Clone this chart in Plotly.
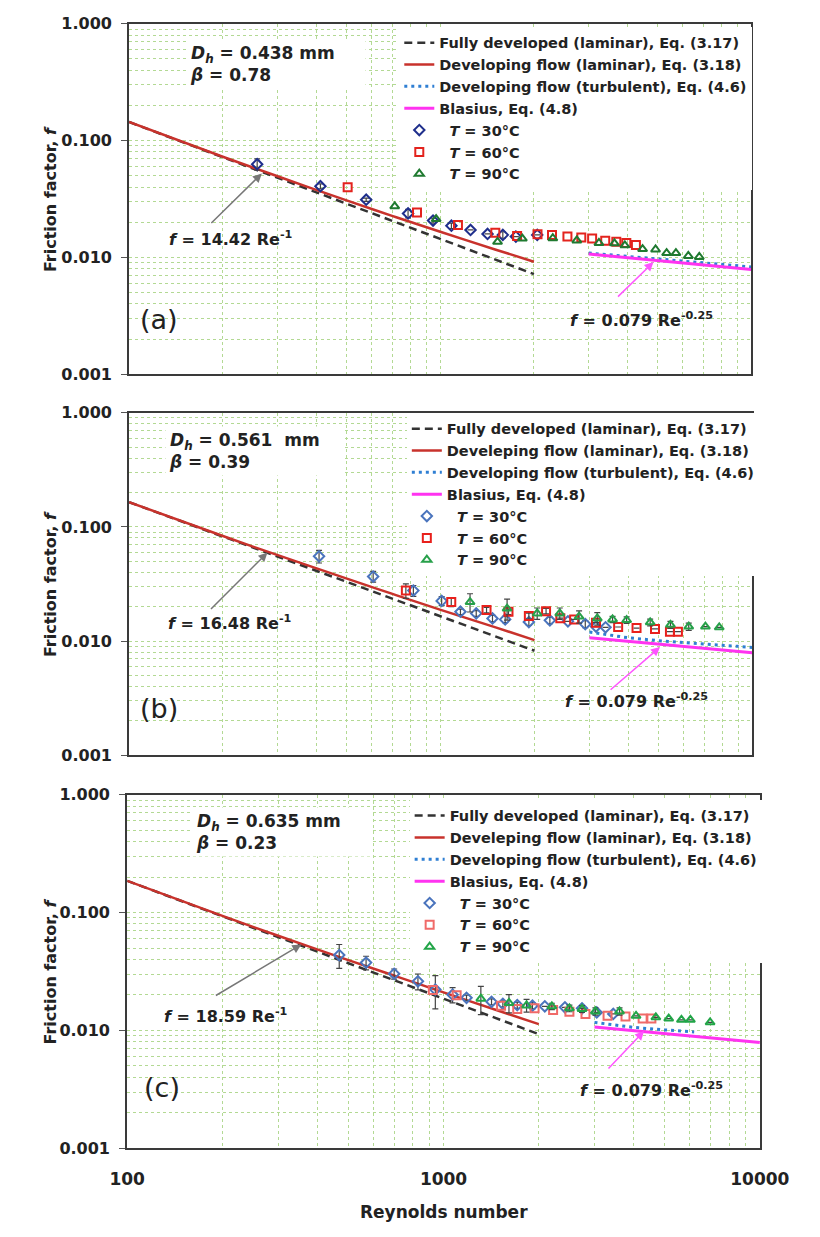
import numpy as np
import plotly.graph_objects as go

W, H = 820, 1237
FONT = "DejaVu Sans, Liberation Sans, Arial, sans-serif"

# ---------------- data ----------------
RE_LAM = [100, 200, 300, 500, 700, 1000, 1500, 2000]
RE_FD = [100, 2000]
RE_TURB = [3000, 4000, 5000, 6000, 7000, 8000, 9000, 10000]
RE_BLAS = [3000, 10000]

# panel (a)
A_FD = [0.1442, 0.00721]
A_DEV = [0.1442, 0.0728, 0.0495, 0.0308, 0.0227, 0.0166, 0.0117, 0.0092]
A_TURB = [0.0109, 0.0102, 0.0097, 0.0093, 0.0090, 0.0087, 0.0085, 0.0083]
A_BLAS = [0.0107, 0.0079]
A30_RE = [258, 412, 578, 788, 948, 1086, 1251, 1419, 1589, 1750, 2050]
A30_F = [0.0628, 0.0407, 0.0312, 0.0238, 0.0207, 0.0187, 0.0172, 0.0159, 0.0156, 0.0151, 0.0156]
A30_E = [0.007, 0.002, 0.001, 0.002, 0.001, 0.001, 0.0, 0.0, 0.001, 0.0, 0.0]
A60_RE = [504, 842, 1140, 1503, 1766, 2054, 2286, 2563, 2840, 3077, 3390, 3680, 3963, 4254]
A60_F = [0.0399, 0.0243, 0.0190, 0.0163, 0.0153, 0.0158, 0.0156, 0.0151, 0.0148, 0.0145, 0.0139, 0.0136, 0.0133, 0.0128]
A90_RE = [714, 970, 1528, 1836, 2300, 2747, 3236, 3630, 3920, 4470, 4920, 5340, 5720, 6270, 6800]
A90_F = [0.0274, 0.0213, 0.0136, 0.0145, 0.0146, 0.0140, 0.0133, 0.0132, 0.0127, 0.0118, 0.0117, 0.0109, 0.0109, 0.0103, 0.0101]

# panel (b)
B_FD = [0.1648, 0.00824]
B_DEV = [0.1648, 0.0832, 0.0566, 0.0353, 0.0259, 0.0188, 0.0132, 0.0102]
B_TURB = [0.0120, 0.0107, 0.0101, 0.0097, 0.0094, 0.0092, 0.0090, 0.0088]
B_BLAS = [0.0107, 0.0079]
B30_RE = [407, 607, 817, 1007, 1157, 1300, 1466, 1610, 1918, 2240, 2560, 2910, 3150, 3380]
B30_F = [0.0553, 0.0368, 0.0277, 0.0225, 0.0181, 0.0175, 0.0158, 0.0155, 0.0147, 0.0152, 0.0149, 0.0141, 0.0134, 0.0132]
B30_E = [0.007, 0.004, 0.003, 0.002, 0.001, 0.001, 0.001, 0.001, 0.001, 0.001, 0.0, 0.001, 0.0, 0.0]
B60_RE = [773, 1081, 1403, 1650, 1918, 2178, 2420, 2680, 3150, 3710, 4250, 4870, 5440, 5770]
B60_F = [0.0277, 0.0220, 0.0187, 0.0181, 0.0166, 0.0183, 0.0159, 0.0155, 0.0145, 0.0133, 0.0130, 0.0128, 0.0121, 0.0121]
B60_E = [0.004, 0.002, 0.001, 0.001, 0.001, 0.001, 0.0, 0.0, 0.0, 0.0, 0.0, 0.0, 0.0, 0.0]
B90_RE = [1242, 1633, 2040, 2410, 2780, 3180, 3560, 3950, 4700, 5460, 6250, 7070, 7830]
B90_F = [0.0220, 0.0193, 0.0175, 0.0175, 0.0164, 0.0158, 0.0155, 0.0153, 0.0146, 0.0139, 0.0134, 0.0134, 0.0132]
B90_E = [0.004, 0.004, 0.002, 0.002, 0.002, 0.002, 0.001, 0.001, 0.001, 0.001, 0.001, 0.0, 0.0]

# panel (c)
C_FD = [0.1859, 0.00930]
C_DEV = [0.1859, 0.0938, 0.0636, 0.0395, 0.0291, 0.0210, 0.0146, 0.0113]
RE_TURB_C = [3000, 3500, 4000, 5000, 6200]
C_TURB = [0.0117, 0.0111, 0.0106, 0.0101, 0.0097]
C_BLAS = [0.0107, 0.0079]
C30_RE = [468, 569, 698, 830, 942, 1068, 1182, 1418, 1540, 1710, 1910, 2090, 2420, 2740, 3050, 3440]
C30_F = [0.0436, 0.0376, 0.0302, 0.0261, 0.0222, 0.0201, 0.0189, 0.0175, 0.0168, 0.0164, 0.0162, 0.0160, 0.0157, 0.0154, 0.0142, 0.0138]
C30_E = [0.010, 0.005, 0.003, 0.004, 0.007, 0.003, 0.001, 0.001, 0.001, 0.001, 0.001, 0.0, 0.0, 0.0, 0.0, 0.0]
C60_RE = [925, 1100, 1520, 1710, 1940, 2220, 2500, 2810, 3300, 3760, 4260, 4540]
C60_F = [0.0220, 0.0199, 0.0162, 0.0152, 0.0154, 0.0149, 0.0144, 0.0138, 0.0133, 0.0131, 0.0126, 0.0126]
C90_RE = [1312, 1610, 1830, 2200, 2500, 2740, 3020, 3600, 4060, 4690, 5150, 5650, 6030, 6960]
C90_F = [0.0186, 0.0171, 0.0163, 0.0160, 0.0154, 0.0152, 0.0145, 0.0145, 0.0133, 0.0129, 0.0126, 0.0123, 0.0123, 0.0117]
C90_E = [0.005, 0.003, 0.002, 0.001, 0.001, 0.001, 0.001, 0.001, 0.0, 0.0, 0.0, 0.0, 0.0, 0.0]

X_TICKS = [100, 1000, 10000]
X_TICKTEXT = ["100", "1000", "10000"]
Y_TICKS = [0.001, 0.01, 0.1, 1]
Y_TICKTEXT = ["0.001", "0.010", "0.100", "1.000"]

# ---------------- layout geometry (pixels) ----------------
X_DOMS = [(118, 779), (118, 780), (116, 788)]
PANELS = [(15, 371), (410, 758), (798, 1157)]


def px(x):
    return x / W


def py(y):
    return 1 - y / H


fig = go.Figure()

GRID = "#b3d993"
minor_x = [m * d for d in (100, 1000) for m in range(2, 10)]
minor_y = [m * d for d in (0.001, 0.01, 0.1) for m in range(2, 10)]

panel_cfg = [
    dict(fd=A_FD, dev=A_DEV, turb_re=RE_TURB, turb=A_TURB, blas=A_BLAS,
         s30=(A30_RE, A30_F, A30_E), s60=(A60_RE, A60_F, None), s90=(A90_RE, A90_F, None),
         c30="#1f2f8c", c60="#e3231d", c90="#1f7a30",
         dev_name="Developing flow (laminar), Eq. (3.18)"),
    dict(fd=B_FD, dev=B_DEV, turb_re=RE_TURB, turb=B_TURB, blas=B_BLAS,
         s30=(B30_RE, B30_F, B30_E), s60=(B60_RE, B60_F, B60_E), s90=(B90_RE, B90_F, B90_E),
         c30="#4a74bd", c60="#e8201c", c90="#27a04a",
         dev_name="Develeping flow (laminar), Eq. (3.18)"),
    dict(fd=C_FD, dev=C_DEV, turb_re=RE_TURB_C, turb=C_TURB, blas=C_BLAS,
         s30=(C30_RE, C30_F, C30_E), s60=(C60_RE, C60_F, None), s90=(C90_RE, C90_F, C90_E),
         c30="#4a74bd", c60="#f06a68", c90="#22a548",
         dev_name="Develeping flow (laminar), Eq. (3.18)"),
]

legend_pos = [(405, 18), (413, 410), (416, 803)]
NB = "\u00a0\u00a0"

for i, cfg in enumerate(panel_cfg):
    n = i + 1
    xa = "x" if n == 1 else f"x{n}"
    ya = "y" if n == 1 else f"y{n}"
    lg = "legend" if n == 1 else f"legend{n}"
    common = dict(xaxis=xa, yaxis=ya, legend=lg)
    fig.add_trace(go.Scatter(x=RE_FD, y=cfg["fd"], mode="lines",
                             line=dict(color="#333333", width=2.5, dash="8px,5px"),
                             name="Fully developed (laminar), Eq. (3.17)", **common))
    fig.add_trace(go.Scatter(x=RE_LAM, y=cfg["dev"], mode="lines", line_shape="spline",
                             line=dict(color="#c8322c", width=2.5),
                             name=cfg["dev_name"], **common))
    fig.add_trace(go.Scatter(x=cfg["turb_re"], y=cfg["turb"], mode="lines",
                             line=dict(color="#2f7fd3", width=3, dash="3px,4px"),
                             name="Developing flow (turbulent), Eq. (4.6)", **common))
    fig.add_trace(go.Scatter(x=RE_BLAS, y=cfg["blas"], mode="lines",
                             line=dict(color="#ff33f0", width=3),
                             name="Blasius, Eq. (4.8)", **common))
    for key, sym, col, lab in (("s30", "diamond-open", cfg["c30"], "30"),
                               ("s60", "square-open", cfg["c60"], "60"),
                               ("s90", "triangle-up-open", cfg["c90"], "90")):
        xs, ys, es = cfg[key]
        kw = {}
        if es is not None:
            kw["error_y"] = dict(type="data", array=es, visible=True,
                                 color="#444444", thickness=1.2, width=3)
        fig.add_trace(go.Scatter(x=xs, y=ys, mode="markers",
                                 marker=dict(symbol=sym, size=8, color=col,
                                             line=dict(width=2, color=col)),
                                 name=f"{NB}<i>T</i> = {lab}°C", **common, **kw))

    top, bot = PANELS[i]
    xl, xr = X_DOMS[i]
    xaxis = dict(type="log", range=[2, 4], domain=[px(xl), px(xr)],
                 anchor=ya, showline=True, mirror=True, linecolor="#3a3a3a", linewidth=2,
                 tickvals=X_TICKS, ticktext=X_TICKTEXT if n == 3 else ["", "", ""],
                 ticks="", showgrid=True, gridcolor=GRID, griddash="dot", gridwidth=1.2,
                 minor=dict(tickmode="array", tickvals=minor_x, showgrid=True,
                            gridcolor=GRID, griddash="dot", gridwidth=1, ticks=""),
                 tickfont=dict(family=FONT, size=17, color="#222", weight="bold"),
                 ticklabelstandoff=14, zeroline=False)
    yaxis = dict(type="log", range=[-3, 0], domain=[py(bot), py(top)],
                 anchor=xa, showline=True, mirror=True, linecolor="#3a3a3a", linewidth=2,
                 tickvals=Y_TICKS, ticktext=Y_TICKTEXT, ticks="outside", ticklen=6,
                 tickcolor="#555", showgrid=True, gridcolor=GRID, griddash="dot", gridwidth=1.2,
                 minor=dict(tickmode="array", tickvals=minor_y, showgrid=True,
                            gridcolor=GRID, griddash="dot", gridwidth=1, ticks=""),
                 tickfont=dict(family=FONT, size=16, color="#222", weight="bold"),
                 ticklabelstandoff=6, zeroline=False)
    fig.layout[f"xaxis{'' if n == 1 else n}"] = xaxis
    fig.layout[f"yaxis{'' if n == 1 else n}"] = yaxis

    lx, ly = legend_pos[i]
    fig.layout[lg] = dict(x=px(lx), y=py(ly), xanchor="left", yanchor="top",
                          bgcolor="white", borderwidth=0, itemwidth=30,
                          entrywidth=xr - lx - 50, entrywidthmode="pixels",
                          font=dict(family=FONT, size=14.5, color="#222", weight="bold"),
                          tracegroupgap=0)

    # y-axis title
    fig.add_annotation(xref="paper", yref="paper", x=px(34), y=py((top + bot) / 2),
                       xanchor="center", yanchor="middle",
                       text="Friction factor, <i>f</i>", textangle=-90, showarrow=False,
                       font=dict(family=FONT, size=16, color="#222", weight="bold"))

# ---------------- annotations ----------------
ann_font = dict(family=FONT, size=16, color="#222", weight="bold")
dh_text = [("0.438 mm", "0.78", 178, 30),
           ("0.561  mm", "0.39", 156, 424),
           ("0.635 mm", "0.23", 185, 810)]
for val, beta, x0, y0 in dh_text:
    fig.add_annotation(xref="paper", yref="paper", x=px(x0), y=py(y0),
                       xanchor="left", yanchor="top", align="left", width=172,
                       text=f"<i>D<sub>h</sub></i> = {val}<br><i>β</i> = {beta}",
                       showarrow=False, font=dict(family=FONT, size=17, color="#222", weight="bold"),
                       bgcolor="white", borderpad=3)

labels = [("(a)", 150, 315), ("(b)", 150, 710), ("(c)", 153, 1095)]
for t, x0, y0 in labels:
    fig.add_annotation(xref="paper", yref="paper", x=px(x0), y=py(y0), text=t,
                       xanchor="center", yanchor="middle",
                       showarrow=False, font=dict(family=FONT, size=27, color="#222"))

lam_lab = [("14.42", 226, 233), ("16.48", 225, 623), ("18.59", 221, 1022)]
blas_lab = [(662, 315), (657, 702), (673, 1097)]
for (c, x0, y0), (bx, by) in zip(lam_lab, blas_lab):
    fig.add_annotation(xref="paper", yref="paper", x=px(x0), y=py(y0),
                       xanchor="center", yanchor="middle",
                       text=f"<i>f</i> = {c} Re<sup>-1</sup>", showarrow=False, font=ann_font)
    fig.add_annotation(xref="paper", yref="paper", x=px(bx), y=py(by),
                       xanchor="center", yanchor="middle",
                       text="<i>f</i> = 0.079 Re<sup>-0.25</sup>", showarrow=False, font=ann_font)

arrows = [((207, 218), (259, 167), "#777777"), ((207, 610), (265, 552), "#777777"),
          ((214, 1002), (301, 950), "#777777"),
          ((638, 293), (675, 257), "#ff55ff"), ((631, 692), (682, 648), "#ff55ff"),
          ((628, 1077), (665, 1038), "#ff55ff")]
for (tx, ty), (hx, hy), col in arrows:
    fig.add_annotation(xref="paper", yref="paper", x=px(hx), y=py(hy),
                       ax=tx - hx, ay=ty - hy,
                       text="", showarrow=True, arrowhead=2, arrowsize=1.2,
                       arrowwidth=1.5, arrowcolor=col)

fig.add_annotation(xref="paper", yref="paper", x=px(452), y=py(1222),
                   xanchor="center", yanchor="middle",
                   text="Reynolds number", showarrow=False,
                   font=dict(family=FONT, size=17, color="#222", weight="bold"))

fig.update_layout(width=W, height=H, margin=dict(l=0, r=0, t=0, b=0),
                  paper_bgcolor="white", plot_bgcolor="white", showlegend=True)

fig.write_html("out.html")
